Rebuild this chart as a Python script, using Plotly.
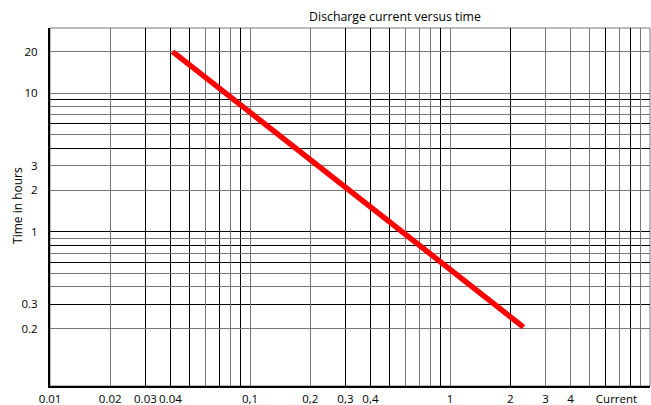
import plotly.graph_objects as go

# Data
current = [0.041, 2.33]          # discharge current
hours = [20, 0.205]              # time in hours

x_tick_vals = [0.01, 0.02, 0.03, 0.04, 0.1, 0.2, 0.3, 0.4, 1, 2, 3, 4, 6.8]
x_tick_text = ["0.01", "0.02", "0.03", "0.04", "0,1", "0,2", "0,3", "0,4", "1", "2", "3", "4", "Current"]
y_tick_vals = [0.2, 0.3, 1, 2, 3, 10, 20]
y_tick_text = ["0.2", "0.3", "1", "2", "3", "10", "20"]

x_grid_dark = [0.03, 0.04, 0.05, 0.07, 0.09, 0.3, 0.4, 0.5, 0.9, 2, 6, 8]
x_grid_light = [0.02, 0.06, 0.08, 0.1, 0.2, 0.6, 0.7, 0.8, 1, 3, 4, 5, 7, 9, 10]
y_grid_dark = [9, 6, 4, 1, 0.8, 0.6, 0.3]
y_grid_light = [20, 10, 8, 7, 5, 3, 2, 0.9, 0.7, 0.5, 0.4, 0.2]

x_range = [-2, 1]
y_range = [-1.114, 1.471]

FONT = "Open Sans"
GRAY = "#777777"

fig = go.Figure()
fig.add_trace(go.Scatter(x=current, y=hours, mode="lines",
                         line=dict(color="#ff0000", width=5.5),
                         hoverinfo="skip", showlegend=False))
# invisible anchors for overlay grid axes
fig.add_trace(go.Scatter(x=[], y=[], xaxis="x2", yaxis="y2", showlegend=False))
fig.add_trace(go.Scatter(x=[], y=[], xaxis="x3", yaxis="y3", showlegend=False))

common = dict(type="log", zeroline=False, fixedrange=True, automargin=False)

fig.update_layout(
    width=651, height=405,
    margin=dict(l=50, r=1, t=28, b=19),
    paper_bgcolor="white", plot_bgcolor="white",
    font=dict(family=FONT, size=11.5, color="#000"),
    showlegend=False,
    title=dict(text="Discharge current versus time", x=395/651, xref="container",
               xanchor="center", y=1 - 17/405, yref="container", yanchor="middle",
               font=dict(family=FONT, size=12.3, color="#000")),
    xaxis=dict(**common, range=x_range, tickmode="array", tickvals=x_tick_vals,
               ticktext=x_tick_text, showgrid=False, showline=True, linewidth=2,
               linecolor="#000", ticks="outside", ticklen=1, tickcolor="rgba(0,0,0,0)"),
    yaxis=dict(**common, range=y_range, tickmode="array", tickvals=y_tick_vals,
               ticktext=y_tick_text, showgrid=False, showline=True, linewidth=2,
               linecolor="#000", ticks="outside", ticklen=8, tickcolor="rgba(0,0,0,0)"),
    xaxis2=dict(**common, range=x_range, overlaying="x", tickmode="array",
                tickvals=x_grid_dark, showticklabels=False, showgrid=True,
                gridcolor="#000", gridwidth=1, ticks="", showline=False),
    yaxis2=dict(**common, range=y_range, overlaying="y", tickmode="array",
                tickvals=y_grid_dark, showticklabels=False, showgrid=True,
                gridcolor="#000", gridwidth=1, ticks="", showline=False),
    xaxis3=dict(**common, range=x_range, overlaying="x", tickmode="array",
                tickvals=x_grid_light, showticklabels=False, showgrid=True,
                gridcolor=GRAY, gridwidth=1, ticks="", showline=False),
    yaxis3=dict(**common, range=y_range, overlaying="y", tickmode="array",
                tickvals=y_grid_light, showticklabels=False, showgrid=True,
                gridcolor=GRAY, gridwidth=1, ticks="", showline=False),
    shapes=[dict(type="rect", xref="paper", yref="paper", x0=0, x1=1, y0=0, y1=1,
                 line=dict(color=GRAY, width=1), layer="below")],
    annotations=[dict(text="Time in hours", xref="paper", yref="paper",
                      x=(18 - 50) / 600, y=0.503, textangle=-90, showarrow=False,
                      xanchor="center", yanchor="middle",
                      font=dict(family=FONT, size=12, color="#000"))],
)

fig.write_html("out.html", post_script="document.body.style.margin='0';",
               config={"displayModeBar": False})
